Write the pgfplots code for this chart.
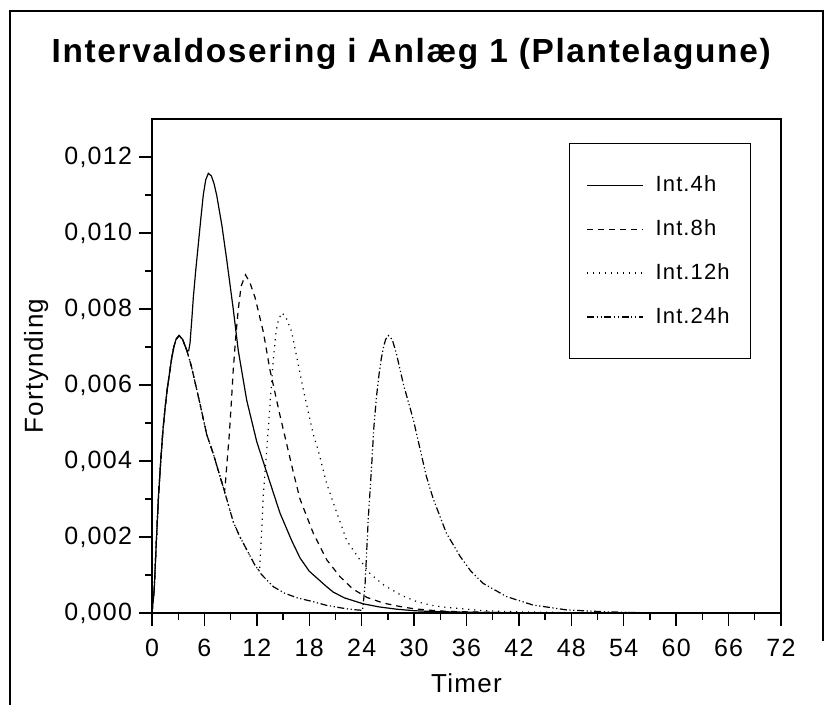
\documentclass[border=0pt]{standalone}
\usepackage{fontspec}
\setmainfont{Liberation Sans}[LetterSpace=5]
\usepackage{pgfplots}
\pgfplotsset{compat=1.18}

\begin{document}
\begin{tikzpicture}
\useasboundingbox (0,0) rectangle (412.5pt,352.5pt);
% outer frame
\draw[line width=0.6pt] (5pt,0pt) -- (5pt,347pt) -- (411.5pt,347pt) -- (411.5pt,32pt);
\begin{axis}[
    at={(76pt,46pt)}, anchor=south west,
    scale only axis, width=314.5pt, height=247pt,
    xmin=0, xmax=72, ymin=0, ymax=0.013,
    xtick={0,6,...,72}, minor xtick={3,9,...,69},
    ytick={0,0.002,0.004,0.006,0.008,0.010,0.012},
    minor ytick={0.001,0.003,0.005,0.007,0.009,0.011},
    scaled y ticks=false,
    yticklabel style={/pgf/number format/.cd, fixed, fixed zerofill, precision=3, use comma},
    /pgf/number format/assume math mode=true,
    tick align=outside, xtick pos=bottom, ytick pos=left,
    major tick length=6.5pt, minor tick length=3.5pt,
    every tick/.style={black, line width=0.7pt},
    axis line style={line width=1.2pt},
    tick label style={font=\fontsize{12.5}{14}\selectfont},
    xticklabel style={yshift=-3pt},
    title={Intervaldosering i Anlæg 1 (Plantelagune)},
    title style={font=\fontsize{16.7}{19}\selectfont\bfseries, at={(axis description cs:0.412,1.09)}, anchor=base},
    xlabel={Timer}, ylabel={Fortynding},
    label style={font=\fontsize{13}{15}\selectfont},
    xlabel style={at={(axis description cs:0.5,-0.16)}, anchor=base},
    ylabel style={at={(axis description cs:-0.184,0.5)}, anchor=center},
    legend style={at={(rel axis cs:0.663,0.951)}, anchor=north west, draw=black, line width=0.5pt,
        inner xsep=8.5pt, inner ysep=14pt, row sep=8.5pt, column sep=4pt,
        font=\fontsize{11}{13}\selectfont},
    legend cell align=left,
    legend image code/.code={\draw[#1, line width=0.6pt] (0pt,0pt) -- (28pt,0pt);},
    every axis plot/.append style={black, line width=0.6pt},
]
% Int.4h
\addplot[solid] coordinates {
(0,0) (0.25,0.0006) (0.5,0.0019) (0.75,0.0031) (1.0,0.0040) (1.25,0.0048) (1.5,0.0054) (1.75,0.0059) (2.0,0.0063) (2.25,0.0067) (2.5,0.0070) (2.75,0.0072) (3.1,0.0073) (3.5,0.0072) (4.0,0.0069)
(4.2,0.0069) (4.35,0.0071) (4.55,0.0077) (4.73,0.0083) (5.0,0.0090) (5.3,0.0097) (5.6,0.0104) (5.87,0.0110) (6.15,0.0114) (6.45,0.01157) (6.8,0.0115) (7.1,0.0113) (7.4,0.0110) (8.0,0.0102) (8.55,0.0093) (9.3,0.0080) (9.88,0.0069) (10.84,0.0056) (12.0,0.0045) (13.13,0.0037) (14.65,0.00263) (16.0,0.0019) (16.94,0.00145) (18.0,0.0011) (20.0,0.00069) (20.75,0.00055) (22.0,0.0004) (24.2,0.00024) (26.0,0.00016) (28.0,0.0001) (30.0,0.00006) (32.0,0.00004) (36.0,0.00002) (40,0.00001)
};
\addlegendentry{Int.4h}
% Int.8h
\addplot[dash pattern=on 3pt off 2.5pt] coordinates {
(0,0) (0.25,0.0006) (0.5,0.0019) (0.75,0.0031) (1.0,0.0040) (1.25,0.0048) (1.5,0.0054) (1.75,0.0059) (2.0,0.0063) (2.25,0.0067) (2.5,0.0070) (2.75,0.0072) (3.1,0.0073) (3.5,0.0072) (4.0,0.0069)
(4.5,0.0065) (5.0,0.0060) (5.5,0.0055) (6.26,0.0047) (7.0,0.0042) (7.78,0.0036) (8.3,0.0032)
(8.36,0.0033) (8.6,0.0040) (8.85,0.0047) (9.1,0.0056) (9.3,0.0064) (9.6,0.0073) (9.88,0.0080) (10.2,0.0086) (10.7,0.0089) (11.2,0.0087) (11.8,0.0083) (12.74,0.0074) (13.5,0.0064) (14.65,0.0052) (16.18,0.0037) (16.94,0.0030) (18.46,0.0021) (20.0,0.0014) (21.5,0.00096) (23.0,0.00063) (24.6,0.00041) (26.5,0.00026) (28.4,0.00017) (30.0,0.00011) (32.0,0.00007) (34,0.00004) (38,0.00002) (42,0.00001)
};
\addlegendentry{Int.8h}
% Int.12h
\addplot[dash pattern=on 0.6pt off 2.4pt] coordinates {
(0,0) (0.25,0.0006) (0.5,0.0019) (0.75,0.0031) (1.0,0.0040) (1.25,0.0048) (1.5,0.0054) (1.75,0.0059) (2.0,0.0063) (2.25,0.0067) (2.5,0.0070) (2.75,0.0072) (3.1,0.0073) (3.5,0.0072) (4.0,0.0069)
(4.5,0.0065) (5.0,0.0060) (5.5,0.0055) (6.26,0.0047) (7.0,0.0042) (7.78,0.0036) (8.3,0.0032)
(8.55,0.0030) (9.3,0.0024) (10.07,0.0020) (11.0,0.0016) (11.8,0.00125) (12.3,0.0011)
(12.5,0.0019) (12.74,0.0031) (13.0,0.0039) (13.3,0.0048) (13.6,0.0058) (13.9,0.0067) (14.2,0.0074) (14.46,0.0077) (14.85,0.0079) (15.3,0.0078) (15.99,0.0074) (16.6,0.0067) (17.3,0.0059) (18.46,0.0047) (19.0,0.0043) (20.0,0.0034) (20.75,0.0029) (22.3,0.0019) (23.8,0.0014) (24.95,0.00104) (26.5,0.00074) (28.5,0.00047) (30.3,0.0003) (32,0.0002) (34,0.00014) (36,0.0001) (38,0.00006) (42,0.00003) (48,0.00001)
};
\addlegendentry{Int.12h}
% Int.24h
\addplot[dash pattern=on 3.5pt off 1.3pt on 0.6pt off 1.3pt on 0.6pt off 1.3pt] coordinates {
(0,0) (0.25,0.0006) (0.5,0.0019) (0.75,0.0031) (1.0,0.0040) (1.25,0.0048) (1.5,0.0054) (1.75,0.0059) (2.0,0.0063) (2.25,0.0067) (2.5,0.0070) (2.75,0.0072) (3.1,0.0073) (3.5,0.0072) (4.0,0.0069)
(4.5,0.0065) (5.0,0.0060) (5.5,0.0055) (6.26,0.0047) (7.0,0.0042) (7.78,0.0036) (8.3,0.0032)
(8.55,0.0030) (9.3,0.0024) (10.07,0.0020) (11.0,0.0016) (11.8,0.00125) (12.3,0.0011)
(12.5,0.00102) (13.9,0.00069) (15.2,0.00052) (16.6,0.00040) (18.4,0.00030) (20,0.00020) (22,0.00012) (23,0.00009) (24.1,0.00007)
(24.25,0.0004) (24.4,0.0008) (24.76,0.0025) (25.15,0.0039) (25.4,0.0049) (25.7,0.0057) (26.0,0.0063) (26.25,0.0067) (26.5,0.0070) (26.75,0.0072) (27.05,0.0073) (27.5,0.0072) (28.0,0.0068) (28.8,0.0060) (29.9,0.0051) (30.7,0.0043) (31.4,0.0036) (32.2,0.0030) (33.7,0.0021) (35.3,0.00148) (36.5,0.0011) (37.9,0.00078) (40.6,0.00043) (43.6,0.00021) (47.5,0.00008) (52,0.00003) (56,0.00001) (60,0)
};
\addlegendentry{Int.24h}
\end{axis}
\end{tikzpicture}
\end{document}
